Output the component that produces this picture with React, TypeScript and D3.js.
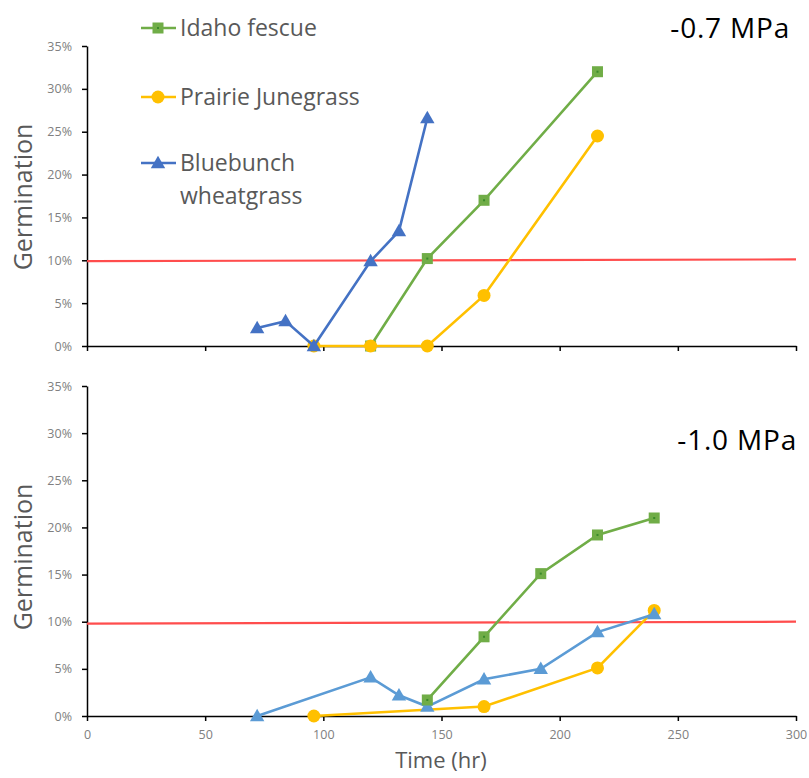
import React, { useEffect, useRef } from 'react';
import * as d3 from 'd3';

// hours on the x axis, germination in percent
const xTicks = [0, 50, 100, 150, 200, 250, 300];
const yTicks = [0, 5, 10, 15, 20, 25, 30, 35];

// -0.7 MPa panel
const topFescue = [[120, 0], [144, 10.2], [168, 17.0], [216, 32.0]];
const topJune = [[96, 0], [120, 0], [144, 0], [168, 5.9], [216, 24.5]];
const topBluebunch = [[72, 2.1], [84, 2.9], [96, 0], [120, 9.9], [132, 13.4], [144, 26.6]];
const topThreshold = [[0, 9.9], [300, 10.1]];

// -1.0 MPa panel
const botFescue = [[144, 1.7], [168, 8.4], [192, 15.1], [216, 19.2], [240, 21.0]];
const botJune = [[96, 0], [168, 1.0], [216, 5.1], [240, 11.2]];
const botBluebunch = [[72, 0], [120, 4.1], [132, 2.2], [144, 1.0], [168, 3.9], [192, 5.0], [216, 8.9], [240, 10.8]];
const botThreshold = [[0, 9.8], [300, 10.0]];

const legendNames = ['Idaho fescue', 'Prairie Junegrass', 'Bluebunch wheatgrass'];

const GREEN = '#70AD47';
const YELLOW = '#FFC000';
const DARKBLUE = '#4472C4';
const LIGHTBLUE = '#5B9BD5';
const RED = '#FF4D4D';
const FONT = '"Open Sans", "Noto Sans", sans-serif';

function drawMarker(g, type, x, y, color) {
  if (type === 'square') {
    g.append('rect').attr('x', x - 5.5).attr('y', y - 5.5).attr('width', 11).attr('height', 11)
      .attr('fill', color);
    g.append('rect').attr('x', x - 1).attr('y', y - 1).attr('width', 2).attr('height', 2)
      .attr('fill', '#3a8a2a');
  } else if (type === 'circle') {
    g.append('circle').attr('cx', x).attr('cy', y).attr('r', 6.5).attr('fill', color);
  } else {
    const s = d3.symbol().type(d3.symbolTriangle).size(90);
    g.append('path').attr('d', s()).attr('transform', `translate(${x},${y + 1})`).attr('fill', color);
  }
}

function App() {
  const svgRef = useRef();

  useEffect(() => {
    const svg = d3.select(svgRef.current);
    svg.selectAll('*').remove();

    const x = d3.scaleLinear().domain([0, 300]).range([87, 796]);

    const panels = [
      {
        top: 46, bottom: 346, label: '-0.7 MPa', labelX: 790, labelY: 38,
        series: [
          { data: topFescue, color: GREEN, marker: 'square' },
          { data: topJune, color: YELLOW, marker: 'circle' },
          { data: topBluebunch, color: DARKBLUE, marker: 'triangle' },
        ],
        threshold: topThreshold, xLabels: false, titleY: 197,
      },
      {
        top: 386, bottom: 716, label: '-1.0 MPa', labelX: 797, labelY: 450,
        series: [
          { data: botJune, color: YELLOW, marker: 'circle' },
          { data: botBluebunch, color: LIGHTBLUE, marker: 'triangle' },
          { data: botFescue, color: GREEN, marker: 'square' },
        ],
        threshold: botThreshold, xLabels: true, titleY: 557,
      },
    ];

    panels.forEach(p => {
      const y = d3.scaleLinear().domain([0, 35]).range([p.bottom, p.top]);
      const g = svg.append('g');

      // y axis
      const yAxis = g.append('g')
        .attr('transform', `translate(${x(0)},0)`)
        .call(d3.axisLeft(y).tickValues(yTicks).tickSize(5).tickSizeOuter(0).tickFormat(d => `${d}%`));
      yAxis.select('.domain').attr('stroke', '#000').attr('stroke-width', 1.5);
      yAxis.selectAll('.tick line').attr('stroke', '#000').attr('stroke-width', 1.5);
      yAxis.selectAll('.tick text').attr('fill', '#808080').attr('font-size', 12.5)
        .attr('font-family', FONT).attr('x', -15);

      // x axis
      const xAxis = g.append('g')
        .attr('transform', `translate(0,${p.bottom})`)
        .call(d3.axisBottom(x).tickValues(xTicks).tickSize(5).tickSizeOuter(0)
          .tickFormat(d => (p.xLabels ? `${d}` : '')));
      xAxis.select('.domain').attr('stroke', '#000').attr('stroke-width', 1.5);
      xAxis.selectAll('.tick line').attr('stroke', '#000').attr('stroke-width', 1.5);
      xAxis.selectAll('.tick text').attr('fill', '#808080').attr('font-size', 12.5)
        .attr('font-family', FONT).attr('y', 14);

      // threshold line
      g.append('path')
        .datum(p.threshold)
        .attr('d', d3.line().x(d => x(d[0])).y(d => y(d[1])))
        .attr('fill', 'none').attr('stroke', RED).attr('stroke-width', 2.2);

      p.series.forEach(s => {
        g.append('path')
          .datum(s.data)
          .attr('d', d3.line().x(d => x(d[0])).y(d => y(d[1])))
          .attr('fill', 'none').attr('stroke', s.color).attr('stroke-width', 2.6);
        s.data.forEach(d => drawMarker(g, s.marker, x(d[0]), y(d[1]), s.color));
      });

      // axis title
      g.append('text')
        .attr('transform', `translate(32,${p.titleY}) rotate(-90)`)
        .attr('text-anchor', 'middle')
        .attr('font-family', FONT).attr('font-size', 25).attr('fill', '#595959')
        .text('Germination');

      g.append('text')
        .attr('x', p.labelX).attr('y', p.labelY)
        .attr('text-anchor', 'end')
        .attr('font-family', FONT).attr('font-size', 28).attr('letter-spacing', 0.8).attr('fill', '#000')
        .text(p.label);
    });

    svg.append('text')
      .attr('x', 441).attr('y', 768)
      .attr('text-anchor', 'middle')
      .attr('font-family', FONT).attr('font-size', 22).attr('fill', '#595959')
      .text('Time (hr)');

    // legend
    const legend = [
      { name: legendNames[0], color: GREEN, marker: 'square', y: 28 },
      { name: legendNames[1], color: YELLOW, marker: 'circle', y: 97 },
      { name: legendNames[2], color: DARKBLUE, marker: 'triangle', y: 163 },
    ];
    const lg = svg.append('g');
    legend.forEach(l => {
      lg.append('line').attr('x1', 141).attr('x2', 176).attr('y1', l.y).attr('y2', l.y)
        .attr('stroke', l.color).attr('stroke-width', 2.6);
      drawMarker(lg, l.marker, 158, l.y, l.color);
      const words = l.name === legendNames[2] ? ['Bluebunch', 'wheatgrass'] : [l.name];
      words.forEach((w, i) => {
        lg.append('text')
          .attr('x', 180).attr('y', l.y + 8 + i * 33)
          .attr('font-family', FONT).attr('font-size', 23).attr('fill', '#595959')
          .text(w);
      });
    });
  }, []);

  return <svg ref={svgRef} width={809} height={778} style={{ display: 'block', position: 'absolute', left: 0, top: 0 }}></svg>;
}

export default App;
